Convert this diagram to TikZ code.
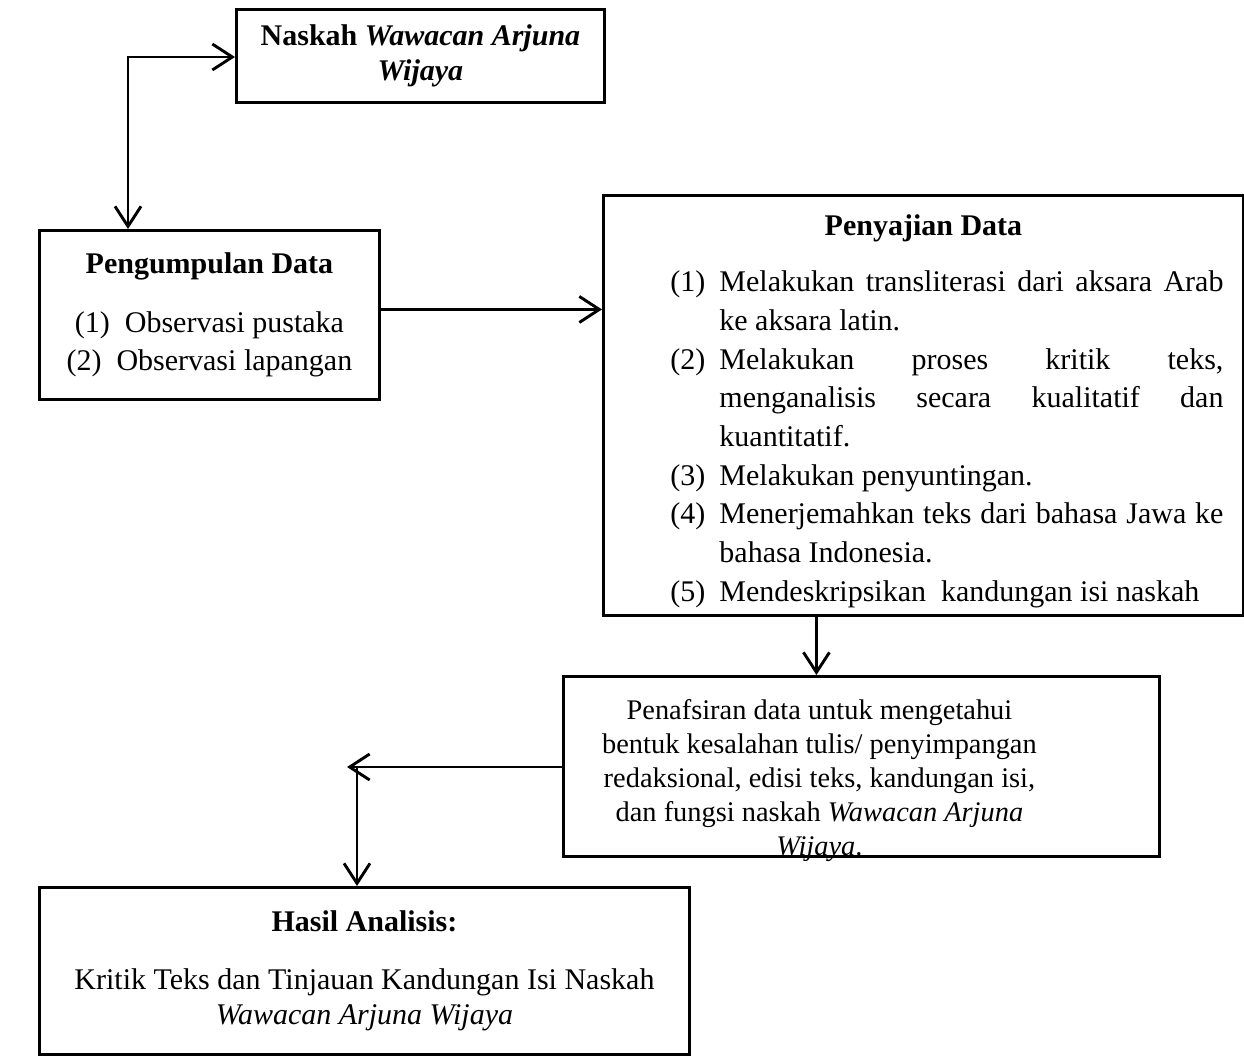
\documentclass[tikz,border=0pt]{standalone}
\usepackage{fontspec}
\setmainfont{Liberation Serif}
\usetikzlibrary{arrows.meta}

\newcommand{\butir}[2]{\par\hangindent=49pt\hangafter=1\noindent\makebox[49pt][l]{(#1)}#2\par}

\tikzset{
  kotak/.style={draw, line width=2.9pt, inner sep=0pt, anchor=north west, align=center,
    font=\fontsize{30}{38.7}\selectfont},
  panah/.style={line width=2.9pt, -{Straight Barb[length=20pt,width=26pt]}},
  panah dua/.style={line width=2.9pt, {Straight Barb[length=20pt,width=26pt]}-{Straight Barb[length=20pt,width=26pt]}},
  teks kecil/.style={align=center, font=\fontsize{28.4}{34}\selectfont}
}

\begin{document}
\begin{tikzpicture}[x=1pt,y=-1pt]
\useasboundingbox (0,0) rectangle (1244,1056);

\node[kotak, minimum width=368pt, minimum height=93pt] (naskah) at (235,8)
  {\textbf{Naskah \textit{Wawacan Arjuna}}\\[-3pt]\textbf{\textit{Wijaya}}};
\node[kotak, minimum width=340pt, minimum height=169pt] (kumpul) at (38,229)
  {\textbf{Pengumpulan Data}\\[20pt](1)\ \ Observasi pustaka\\(2)\ \ Observasi lapangan};
\node[kotak, minimum width=640pt, minimum height=420pt, text width=640pt, align=justify] (sajian) at (602,194)
  {\parskip=0pt\tolerance=10000\hyphenpenalty=10000
   {\centering\bfseries\rule{0pt}{32pt}Penyajian Data\par}\vspace{18pt}
   \leftskip=67pt\rightskip=20pt
   \butir{1}{Melakukan transliterasi dari aksara Arab\linebreak ke aksara latin.}
   \butir{2}{Melakukan proses kritik teks,\linebreak menganalisis secara kualitatif dan\linebreak kuantitatif.}
   \butir{3}{Melakukan penyuntingan.}
   \butir{4}{Menerjemahkan teks dari bahasa Jawa ke\linebreak bahasa Indonesia.}
   \butir{5}{Mendeskripsikan\ \ kandungan isi naskah}};
\node[kotak, minimum width=596pt, minimum height=180pt] (tafsir) at (562,675) {};
\node[teks kecil] (tafsirisi) at ([xshift=-42pt,yshift=-14pt]tafsir.center)
  {Penafsiran data untuk mengetahui\\bentuk kesalahan tulis/ penyimpangan\\redaksional, edisi teks, kandungan isi,\\dan fungsi naskah \textit{Wawacan Arjuna}\\\textit{Wijaya}.};
\node[kotak, minimum width=650pt, minimum height=167pt] (hasil) at (38,886)
  {\textbf{Hasil Analisis:}\\[19pt]Kritik Teks dan Tinjauan Kandungan Isi Naskah\\[-3pt]\textit{Wawacan Arjuna Wijaya}};

% titik belok
\coordinate (belok1) at (128,57);
\coordinate (kanan) at ([yshift=5.5pt]kumpul.east);
\coordinate (turun) at ([xshift=-45pt]tafsir.north);
\coordinate (ujung) at (347,767);
\coordinate (belok2) at (357,767);

\draw[panah dua] (naskah.west |- belok1) -- (belok1) -- (belok1 |- kumpul.north);
\draw[panah] (kanan) -- (kanan -| sajian.west);
\draw[panah] (turun |- sajian.south) -- (turun);
\draw[panah] (tafsir.west |- ujung) -- (ujung);
\draw[panah] (belok2) -- (belok2 |- hasil.north);
\end{tikzpicture}
\end{document}
